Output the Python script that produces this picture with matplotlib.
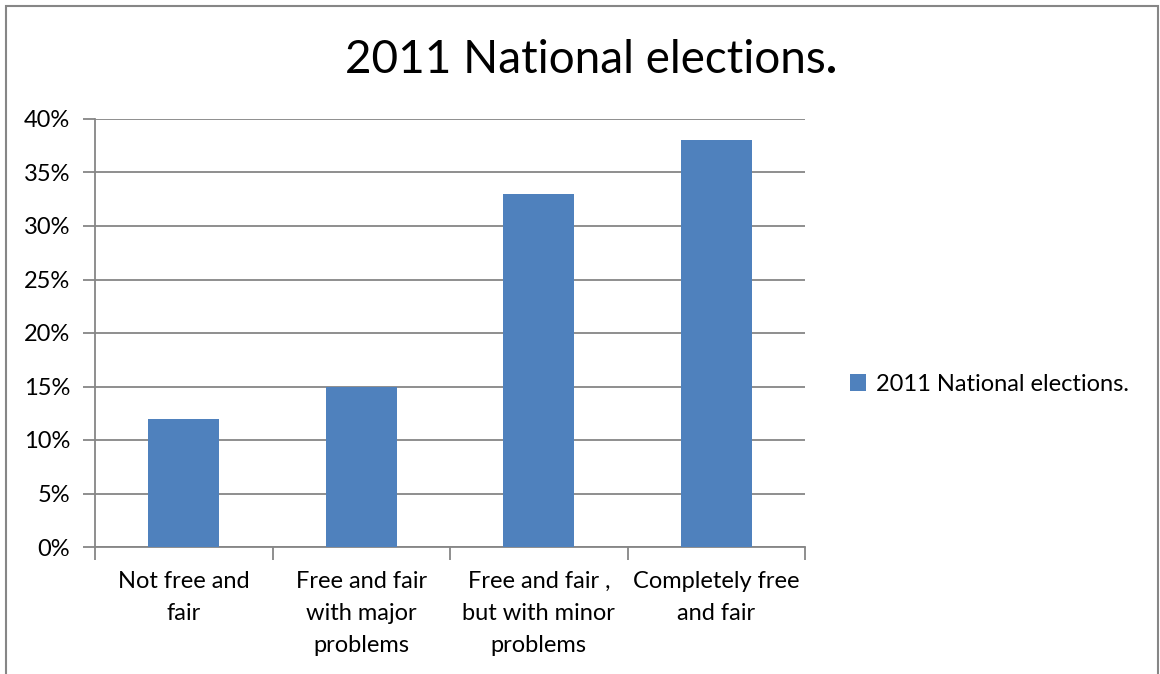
import matplotlib.pyplot as plt
from matplotlib.patches import Rectangle
from matplotlib.ticker import PercentFormatter

categories = ['Not free and\nfair', 'Free and fair\nwith major\nproblems',
              'Free and fair ,\nbut with minor\nproblems', 'Completely free\nand fair']
shares = [12, 15, 33, 38]
series_name = '2011 National elections.'
y_ticks = [0, 5, 10, 15, 20, 25, 30, 35, 40]

bar_color = '#4F81BD'
grid_color = '#868686'
plt.rcParams['font.family'] = ['Lato', 'DejaVu Sans']

fig = plt.figure(figsize=(11.6, 6.74), dpi=100)
ax = fig.add_axes([95 / 1160, 1 - 547 / 674, 710 / 1160, 428 / 674])

x = range(len(shares))
ax.bar(x, shares, width=0.4, color=bar_color, label=series_name, zorder=3)
ax.set_xlim(-0.5, len(shares) - 0.5)
ax.set_ylim(0, 40)
ax.set_yticks(y_ticks)
ax.yaxis.set_major_formatter(PercentFormatter(decimals=0))
ax.grid(axis='y', color=grid_color, linewidth=1.3, zorder=0)

# category boundaries get the tick marks, labels sit in the middle
ax.set_xticks([i - 0.5 for i in range(len(shares) + 1)])
ax.set_xticklabels([])
ax.set_xticks(list(x), minor=True)
ax.set_xticklabels(categories, minor=True, fontsize=17)
ax.tick_params(axis='x', which='major', direction='out', length=9,
               color=grid_color, width=1.3)
ax.tick_params(axis='x', which='minor', length=0, pad=17)
ax.tick_params(axis='y', direction='out', length=9, color=grid_color,
               width=1.3, labelsize=17, pad=9)
for lbl in ax.get_xticklabels(minor=True):
    lbl.set_linespacing(1.65)

for side in ['top', 'right']:
    ax.spines[side].set_visible(False)
for side in ['left', 'bottom']:
    ax.spines[side].set_color(grid_color)
    ax.spines[side].set_linewidth(1.3)

ax.legend(loc='center left', bbox_to_anchor=(1.033, 0.38), frameon=False,
          fontsize=17, handlelength=0.7, handleheight=0.7, handletextpad=0.4)

# title with the heavier full stop
renderer = fig.canvas.get_renderer()
title = fig.text(0.505, 1 - 60 / 674, '2011 National elections', fontsize=33,
                 ha='center', va='center')
bb = title.get_window_extent(renderer)
fig.text(bb.x1 / 1160, 1 - 60 / 674, '.', fontsize=33, fontweight='bold',
         ha='left', va='center')

# outer chart frame
fig.patches.append(Rectangle((6 / 1160, -0.05), 1152 / 1160, 1 - 6 / 674 + 0.05,
                             transform=fig.transFigure, fill=False,
                             edgecolor=grid_color, linewidth=1.5))

fig.savefig('out.png', dpi=100)
